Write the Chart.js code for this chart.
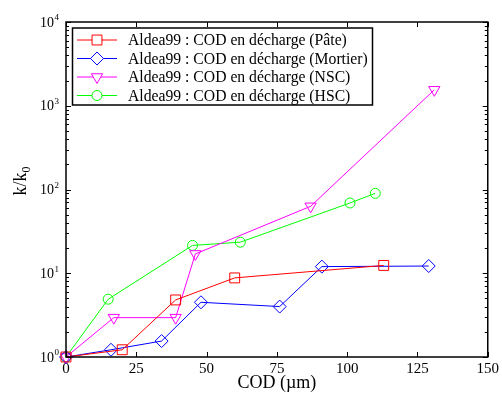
<!DOCTYPE html>
<html>
<head>
<meta charset="utf-8">
<title>k/k0 vs COD</title>
<script src="https://cdn.jsdelivr.net/npm/chart.js@4.4.0/dist/chart.umd.min.js"></script>
<style>
  body { margin: 0; background: #fff; }
  canvas { display: block; }
</style>
</head>
<body>
<canvas id="chart" width="502" height="394"></canvas>
<script>
// values
const codPate = [0, 20, 39, 60, 113];
const kPate = [1, 1.22, 4.8, 8.8, 12.4];
const codMortier = [0, 16, 34, 48, 76, 91, 129];
const kMortier = [1, 1.22, 1.55, 4.5, 4.0, 12.0, 12.2];
const codNSC = [0, 17, 39, 46, 87, 131];
const kNSC = [1, 2.95, 2.95, 17, 63, 1550];
const codHSC = [0, 15, 45, 62, 101, 110];
const kHSC = [1, 4.9, 21.5, 23.5, 69, 90];

const xTicks = [0, 25, 50, 75, 100, 125, 150];
const yDecades = [0, 1, 2, 3, 4];

const labels = [
  'Aldea99 : COD en décharge (Pâte)',
  'Aldea99 : COD en décharge (Mortier)',
  'Aldea99 : COD en décharge (NSC)',
  'Aldea99 : COD en décharge (HSC)'
];

const serif = '"Liberation Serif", "Times New Roman", serif';

const toPoints = (xs, ys) => xs.map((x, i) => ({ x: x, y: ys[i] }));

const makeSet = (label, xs, ys, color, style, radius, rotation) => ({
  label: label,
  data: toPoints(xs, ys),
  borderColor: color,
  borderWidth: 1,
  backgroundColor: 'rgba(0,0,0,0)',
  pointStyle: style,
  pointRadius: radius,
  pointRotation: rotation || 0,
  pointBorderColor: color,
  pointBackgroundColor: 'rgba(0,0,0,0)',
  pointBorderWidth: 1,
  tension: 0,
  clip: false
});

// frame, inward ticks, superscript labels, y title and legend box
const decorations = {
  id: 'decorations',
  afterDraw(chart) {
    const ctx = chart.ctx;
    const a = chart.chartArea;
    const xs = chart.scales.x;
    const ys = chart.scales.y;
    ctx.save();
    ctx.strokeStyle = '#000';
    ctx.lineWidth = 1.5;
    ctx.strokeRect(a.left, a.top, a.right - a.left, a.bottom - a.top);

    ctx.lineWidth = 1;
    ctx.beginPath();
    xTicks.forEach(v => {
      const px = Math.round(xs.getPixelForValue(v)) + 0.5;
      ctx.moveTo(px, a.bottom); ctx.lineTo(px, a.bottom - 5);
      ctx.moveTo(px, a.top); ctx.lineTo(px, a.top + 5);
    });
    yDecades.forEach(d => {
      for (let m = 1; m <= 9; m++) {
        if (d === 4 && m > 1) break;
        const py = Math.round(ys.getPixelForValue(m * Math.pow(10, d))) + 0.5;
        const len = m === 1 ? 5 : 3;
        ctx.moveTo(a.left, py); ctx.lineTo(a.left + len, py);
        ctx.moveTo(a.right, py); ctx.lineTo(a.right - len, py);
      }
    });
    ctx.stroke();

    // y tick labels 10^n
    ctx.fillStyle = '#000';
    ctx.textBaseline = 'middle';
    yDecades.forEach(d => {
      const py = ys.getPixelForValue(Math.pow(10, d));
      ctx.font = '14px ' + serif;
      ctx.textAlign = 'right';
      ctx.fillText('10', 54, py + 1);
      ctx.font = '9px ' + serif;
      ctx.textAlign = 'left';
      ctx.fillText(String(d), 54.5, py - 4);
    });

    // y title k/k0
    ctx.save();
    ctx.translate(20, 181);
    ctx.rotate(-Math.PI / 2);
    ctx.font = '18px ' + serif;
    ctx.textAlign = 'left';
    ctx.textBaseline = 'alphabetic';
    const w1 = ctx.measureText('k/k').width;
    ctx.font = '12px ' + serif;
    const w2 = ctx.measureText('0').width;
    const x0 = -(w1 + w2) / 2;
    ctx.font = '18px ' + serif;
    ctx.fillText('k/k', x0, 6);
    ctx.font = '12px ' + serif;
    ctx.fillText('0', x0 + w1, 10);
    ctx.restore();

    // legend
    const bx = 72.5, by = 28, bw = 300, bh = 77;
    ctx.fillStyle = '#fff';
    ctx.fillRect(bx, by, bw, bh);
    ctx.lineWidth = 1.5;
    ctx.strokeStyle = '#000';
    ctx.strokeRect(bx, by, bw, bh);
    chart.data.datasets.forEach((ds, i) => {
      const ry = 40 + i * 18.5;
      ctx.lineWidth = 1;
      ctx.strokeStyle = ds.borderColor;
      ctx.beginPath();
      ctx.moveTo(77, ry); ctx.lineTo(117, ry);
      ctx.stroke();
      ctx.fillStyle = '#fff';
      Chart.helpers.drawPoint(ctx, {
        pointStyle: ds.pointStyle,
        rotation: ds.pointRotation,
        radius: ds.pointRadius,
        borderWidth: 1
      }, 97, ry);
      ctx.fillStyle = '#000';
      ctx.font = '15.7px ' + serif;
      ctx.textAlign = 'left';
      ctx.textBaseline = 'middle';
      ctx.fillText(ds.label, 128, ry + 1);
    });
    ctx.restore();
  }
};

new Chart(document.getElementById('chart').getContext('2d'), {
  type: 'line',
  data: {
    datasets: [
      makeSet(labels[0], codPate, kPate, '#ff0000', 'rect', 7),
      makeSet(labels[1], codMortier, kMortier, '#0000ff', 'rectRot', 6.5),
      makeSet(labels[2], codNSC, kNSC, '#ff00ff', 'triangle', 6.5, 180),
      makeSet(labels[3], codHSC, kHSC, '#00ff00', 'circle', 5)
    ]
  },
  options: {
    responsive: false,
    animation: false,
    layout: { padding: { top: 22, right: 11, left: 0, bottom: 0 } },
    plugins: {
      legend: { display: false },
      tooltip: { enabled: false }
    },
    scales: {
      x: {
        type: 'linear',
        min: 0,
        max: 150,
        ticks: {
          stepSize: 25,
          color: '#000',
          padding: 3,
          font: { family: serif, size: 15 }
        },
        grid: { display: false, drawTicks: false },
        border: { display: false },
        title: {
          display: true,
          text: 'COD (µm)',
          color: '#000',
          padding: { top: -2, bottom: 0 },
          font: { family: serif, size: 18 }
        },
        afterFit: s => { s.height = 37; }
      },
      y: {
        type: 'logarithmic',
        min: 1,
        max: 10000,
        ticks: { display: false },
        grid: { display: false, drawTicks: false },
        border: { display: false },
        afterFit: s => { s.width = 66; }
      }
    }
  },
  plugins: [decorations]
});
</script>
</body>
</html>
